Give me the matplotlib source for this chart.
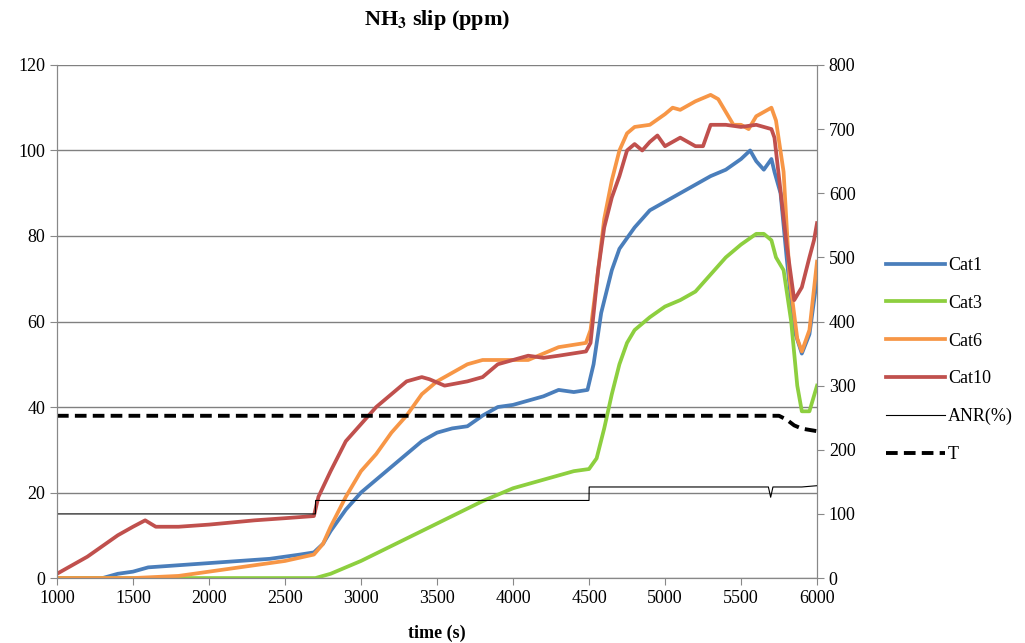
import matplotlib.pyplot as plt
import numpy as np

plt.rcParams['font.family'] = ['Liberation Serif', 'DejaVu Serif']
plt.rcParams['mathtext.fontset'] = 'stix'

# NH3 slip (ppm), eje izquierdo
t_cat1 = [1000, 1300, 1400, 1500, 1600, 1800, 2000, 2200, 2400, 2600, 2690, 2750, 2800, 2900,
          3000, 3100, 3200, 3300, 3400, 3500, 3600, 3700, 3800, 3900, 4000, 4100, 4200, 4300,
          4400, 4490, 4530, 4580, 4650, 4700, 4800, 4900, 5000, 5100, 5200, 5300, 5400, 5500,
          5560, 5600, 5650, 5700, 5720, 5760, 5800, 5850, 5900, 5950, 6000]
cat1 = [0, 0, 1, 1.5, 2.5, 3, 3.5, 4, 4.5, 5.5, 6, 8, 11, 16,
        20, 23, 26, 29, 32, 34, 35, 35.5, 38, 40, 40.5, 41.5, 42.5, 44,
        43.5, 44, 50, 62, 72, 77, 82, 86, 88, 90, 92, 94, 95.5, 98,
        100, 97.5, 95.5, 98, 95, 90, 75, 58, 52.5, 57, 70]

t_cat3 = [1000, 2700, 2800, 2900, 3000, 3200, 3400, 3600, 3800, 4000, 4200, 4400, 4500,
          4550, 4600, 4650, 4700, 4750, 4800, 4900, 5000, 5100, 5200, 5300, 5400, 5500,
          5600, 5650, 5700, 5730, 5780, 5830, 5870, 5900, 5950, 6000]
cat3 = [0, 0, 1, 2.5, 4, 7.5, 11, 14.5, 18, 21, 23, 25, 25.5,
        28, 35, 43, 50, 55, 58, 61, 63.5, 65, 67, 71, 75, 78,
        80.5, 80.5, 79, 75, 72, 60, 45, 39, 39, 45]

t_cat6 = [1000, 1500, 1800, 2000, 2200, 2500, 2690, 2750, 2800, 2900, 3000, 3100, 3200,
          3300, 3400, 3500, 3600, 3700, 3800, 3900, 4000, 4100, 4300, 4480, 4510, 4560,
          4600, 4650, 4700, 4750, 4800, 4900, 5000, 5050, 5100, 5200, 5300, 5350, 5450,
          5500, 5550, 5600, 5700, 5730, 5780, 5820, 5870, 5900, 5950, 6000]
cat6 = [0, 0, 0.5, 1.5, 2.5, 4, 5.5, 8, 12, 19, 25, 29, 34,
        38, 43, 46, 48, 50, 51, 51, 51, 51, 54, 55, 58, 72,
        84, 93, 100, 104, 105.5, 106, 108.5, 110, 109.5, 111.5, 113, 112, 106,
        106, 105, 108, 110, 107, 95, 70, 56, 53, 58, 74]

t_cat10 = [1000, 1200, 1400, 1500, 1580, 1650, 1800, 2000, 2300, 2500, 2690, 2720, 2800,
           2900, 3000, 3100, 3200, 3300, 3400, 3450, 3550, 3700, 3800, 3900, 4000, 4100,
           4200, 4300, 4480, 4510, 4560, 4600, 4650, 4700, 4750, 4800, 4850, 4900, 4950,
           5000, 5100, 5200, 5250, 5300, 5400, 5500, 5600, 5700, 5720, 5800, 5850, 5900,
           5950, 5980, 6000]
cat10 = [1, 5, 10, 12, 13.5, 12, 12, 12.5, 13.5, 14, 14.5, 19, 25,
         32, 36, 40, 43, 46, 47, 46.5, 45, 46, 47, 50, 51, 52,
         51.5, 52, 53, 55, 72, 82, 89, 94, 100, 101.5, 100, 102, 103.5,
         101, 103, 101, 101, 106, 106, 105.5, 106, 105, 103, 78, 65, 68,
         75, 79, 83]

# ANR(%) y T, eje derecho
t_anr = [1000, 2700, 2701, 4500, 4501, 5680, 5695, 5710, 5900, 6000]
anr = [100, 100, 121, 121, 142, 142, 126, 142, 142, 144]

t_temp = [1000, 5750, 5800, 5850, 5900, 6000]
temp = [253, 253, 247, 238, 233, 229]

fig = plt.figure(figsize=(10.25, 6.43), dpi=100)
ax = fig.add_axes([0.0556, 0.101, 0.7415, 0.798])
ax2 = ax.twinx()

l1, = ax.plot(t_cat1, cat1, color="#4A7EBB", lw=2.7, label="Cat1")
l3, = ax.plot(t_cat3, cat3, color="#8DCF3F", lw=2.7, label="Cat3")
l6, = ax.plot(t_cat6, cat6, color="#F79646", lw=2.7, label="Cat6")
l10, = ax.plot(t_cat10, cat10, color="#C0504D", lw=2.7, label="Cat10")
la, = ax2.plot(t_anr, anr, color="black", lw=0.8, label="ANR(%)")
lt, = ax2.plot(t_temp, temp, color="black", lw=2.8, ls=(0, (3, 1.6)), label="T")

ax.set_xlim(1000, 6000)
ax.set_ylim(0, 120)
ax2.set_ylim(0, 800)
ax.set_xticks(np.arange(1000, 6001, 500))
ax.set_yticks(np.arange(0, 121, 20))
ax2.set_yticks(np.arange(0, 801, 100))
ax.grid(axis="y", color="#808080", lw=1)

for a in (ax, ax2):
    for s in a.spines.values():
        s.set_color("#888888")
    a.tick_params(colors="black", labelsize=13, length=5, color="#888888")
ax2.spines["top"].set_visible(False)
ax.spines["top"].set_visible(False)

ax.set_title(r"NH$_\mathbf{3}$ slip (ppm)", fontsize=16, fontweight="bold", pad=29)
ax.set_xlabel("time (s)", fontsize=13, fontweight="bold", labelpad=13)

fig.legend(handles=[l1, l3, l6, l10, la, lt], loc="center left",
           bbox_to_anchor=(0.864, 0.44), frameon=False, fontsize=13,
           handlelength=3.3, labelspacing=1.15, handletextpad=0.15,
           borderpad=0, borderaxespad=0)

fig.savefig("out.png", dpi=100)
